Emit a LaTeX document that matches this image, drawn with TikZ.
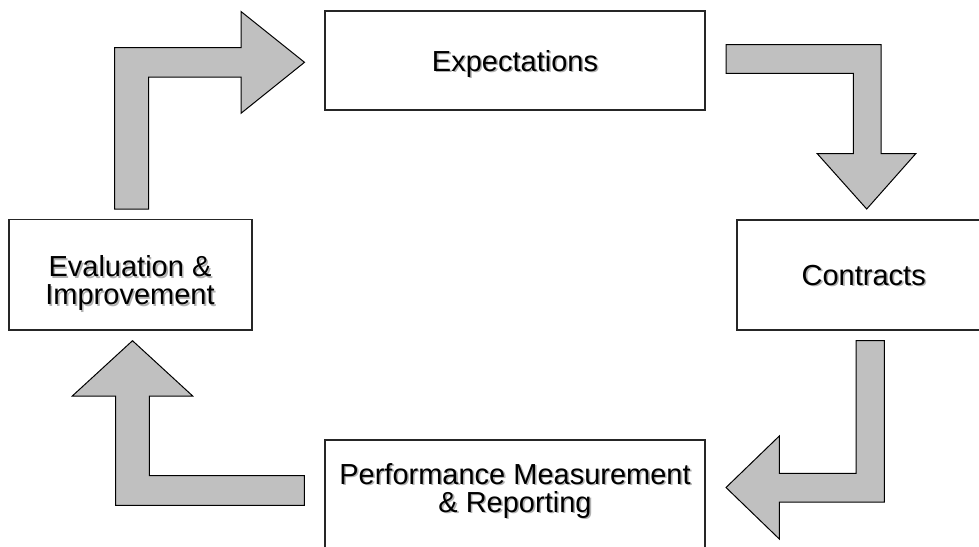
\documentclass[tikz,border=0pt]{standalone}
\usepackage{fontspec}
\setmainfont{Liberation Sans}
% text with a soft grey drop shadow behind it
\newcommand{\shtext}[1]{\makebox[0pt][l]{\hspace{1.6pt}\raisebox{-1.6pt}{\textcolor{black!30}{#1}}}#1}
\definecolor{arrowgrey}{RGB}{192,192,192}

\begin{document}
\begin{tikzpicture}[x=1pt,y=-1pt,
  box/.style={draw=black!85, line width=1.1pt, fill=white, inner sep=0pt},
  blockarrow/.style={draw=black, line width=1pt, fill=arrowgrey, line join=miter},
  lbl/.style={font=\fontsize{29pt}{28pt}\selectfont, inner sep=0pt, align=center}]

\useasboundingbox (0,0) rectangle (979,546);
\clip (0,0) rectangle (979,546);

% boxes
\node[box, minimum width=380pt, minimum height=99pt]  (expect)   at (515,60.5)  {};
\node[box, minimum width=253pt, minimum height=110pt] (contract) at (863.5,275) {};
\node[box, minimum width=243pt, minimum height=110.5pt] (evalbox) at (130.5,274.75) {};
\node[box, minimum width=380pt, minimum height=111pt] (perf)     at (515,495.5) {};

% labels (base anchor of a two-line label sits on its last line)
\node[lbl, anchor=base] (expectT)   at (515,71)    {\shtext{Expectations}};
\node[lbl, anchor=base] (contractT) at (863.7,285) {\shtext{Contracts}};
\node[lbl, anchor=base] (evalT)     at (130,304.7) {\shtext{Evaluation \&}\\\shtext{Improvement}};
\node[lbl, anchor=base] (perfT)     at (515,512.3) {\shtext{Performance Measurement}\\\shtext{\& Reporting}};

% block arrows
\draw[blockarrow] (114.5,209) -- (114.5,47.5) -- (241,47.5) -- (241,11.5) -- (304.5,62.3)
  -- (241,113.3) -- (241,77) -- (148.7,77) -- (148.7,209) -- cycle;
\draw[blockarrow] (726,44.5) -- (881,44.5) -- (881,153.7) -- (915.7,153.7) -- (866.7,209)
  -- (817.3,153.7) -- (853.3,153.7) -- (853.3,73.3) -- (726,73.3) -- cycle;
\draw[blockarrow] (856,340.7) -- (884.3,340.7) -- (884.3,502) -- (779.3,502) -- (779.3,539)
  -- (726,487.5) -- (779.3,436) -- (779.3,473.3) -- (856,473.3) -- cycle;
\draw[blockarrow] (304.3,475.7) -- (304.3,505.3) -- (115.7,505.3) -- (115.7,396) -- (72.3,396)
  -- (132.5,340.7) -- (192.7,396) -- (149.3,396) -- (149.3,475.7) -- cycle;
\end{tikzpicture}
\end{document}
